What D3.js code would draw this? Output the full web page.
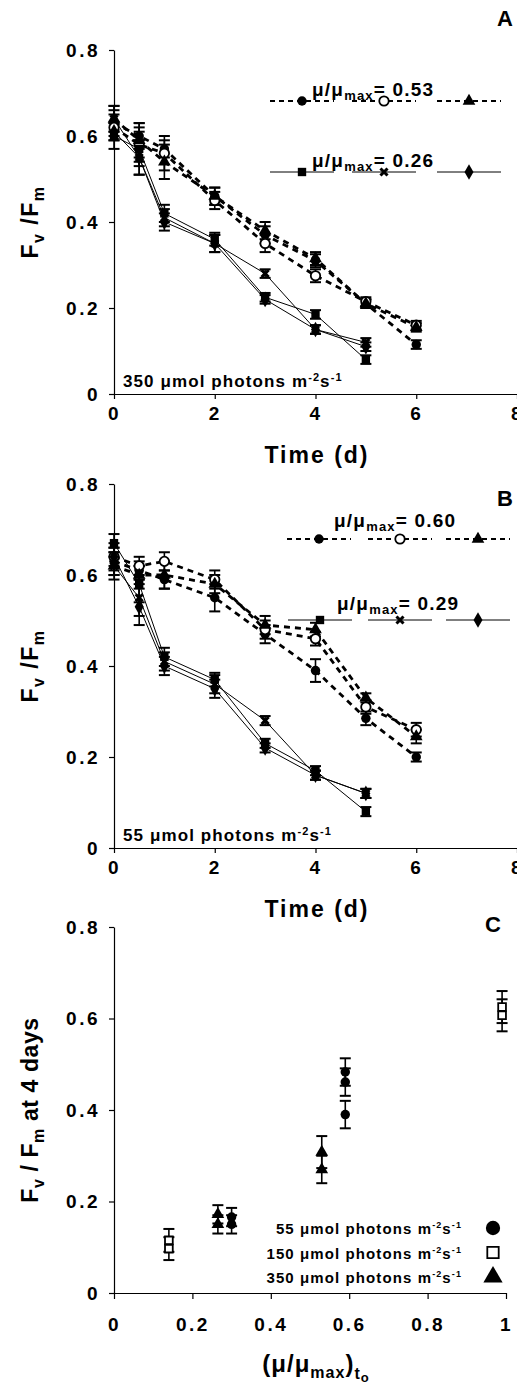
<!DOCTYPE html>
<html>
<head>
<meta charset="utf-8">
<script src="https://cdn.jsdelivr.net/npm/d3@7"></script>
<style>
body { margin: 0; background: #fff; }
svg { font-family: "Liberation Sans", Arial, sans-serif; font-weight: bold; }
</style>
</head>
<body>
<div id="chart"></div>
<script>

// ---------------- data ----------------
var timesLong = [0, 0.5, 1, 2, 3, 4, 5, 6];
var timesShort = [0, 0.5, 1, 2, 3, 4, 5];
var timeTicks = [0, 2, 4, 6, 8];
var fvTicks = [0, 0.2, 0.4, 0.6, 0.8];
var muTicks = [0, 0.2, 0.4, 0.6, 0.8, 1];

// panel A, 350 umol (mu/mumax 0.53 dashed, 0.26 solid)
var aCircle = [0.63, 0.60, 0.57, 0.46, 0.37, 0.31, 0.21, 0.115];
var aCircleErr = [0.03, 0.03, 0.02, 0.02, 0.02, 0.015, 0.01, 0.01];
var aOpen = [0.62, 0.58, 0.56, 0.45, 0.35, 0.275, 0.215, 0.16];
var aOpenErr = [0.03, 0.04, 0.04, 0.02, 0.02, 0.015, 0.01, 0.01];
var aTriangle = [0.64, 0.59, 0.54, 0.46, 0.38, 0.315, 0.21, 0.155];
var aTriangleErr = [0.03, 0.04, 0.04, 0.02, 0.02, 0.015, 0.01, 0.01];
var aSquare = [0.60, 0.57, 0.42, 0.36, 0.225, 0.185, 0.08];
var aSquareErr = [0.03, 0.04, 0.02, 0.015, 0.01, 0.01, 0.01];
var aX = [0.64, 0.55, 0.41, 0.35, 0.28, 0.15, 0.12];
var aXErr = [0.03, 0.04, 0.02, 0.02, 0.01, 0.01, 0.01];
var aDiamond = [0.61, 0.55, 0.40, 0.35, 0.22, 0.15, 0.11];
var aDiamondErr = [0.02, 0.04, 0.02, 0.02, 0.01, 0.01, 0.01];

// panel B, 55 umol (mu/mumax 0.60 dashed, 0.29 solid)
var bCircle = [0.63, 0.61, 0.59, 0.55, 0.47, 0.39, 0.285, 0.20];
var bCircleErr = [0.03, 0.02, 0.02, 0.03, 0.02, 0.025, 0.015, 0.01];
var bOpen = [0.64, 0.62, 0.63, 0.59, 0.48, 0.46, 0.31, 0.26];
var bOpenErr = [0.03, 0.02, 0.02, 0.02, 0.02, 0.015, 0.015, 0.015];
var bTriangle = [0.62, 0.60, 0.60, 0.58, 0.49, 0.48, 0.33, 0.245];
var bTriangleErr = [0.03, 0.02, 0.03, 0.02, 0.02, 0.015, 0.01, 0.015];
var bSquare = [0.67, 0.58, 0.42, 0.37, 0.23, 0.17, 0.08];
var bSquareErr = [0.02, 0.04, 0.02, 0.015, 0.01, 0.01, 0.01];
var bX = [0.62, 0.55, 0.41, 0.36, 0.28, 0.16, 0.12];
var bXErr = [0.02, 0.04, 0.02, 0.02, 0.01, 0.01, 0.01];
var bDiamond = [0.64, 0.53, 0.40, 0.35, 0.22, 0.16, 0.12];
var bDiamondErr = [0.02, 0.04, 0.02, 0.02, 0.01, 0.01, 0.01];

// panel C, Fv/Fm at 4 days against (mu/mumax)t0
var c55Mu = [0.30, 0.30, 0.59, 0.59, 0.59];
var c55Fv = [0.166, 0.15, 0.483, 0.461, 0.39];
var c55Err = [0.02, 0.02, 0.03, 0.03, 0.03];
var c150Mu = [0.14, 0.14, 0.99, 0.99];
var c150Fv = [0.115, 0.097, 0.625, 0.607];
var c150Err = [0.025, 0.025, 0.035, 0.035];
var c350Mu = [0.265, 0.265, 0.53, 0.53];
var c350Fv = [0.172, 0.15, 0.308, 0.27];
var c350Err = [0.02, 0.02, 0.035, 0.03];
var cLegendLabels = ["55", "150", "350"];

// ---------------- setup ----------------
var svg = d3.select("#chart")
  .append("svg")
    .attr("width", 517)
    .attr("height", 1386);

// bold x like the one in the legend
var symbolX = {
    draw: function(ctx, size){
        var r = Math.sqrt(size) / 2;
        ctx.moveTo(-r, -r); ctx.lineTo(r, r);
        ctx.moveTo(-r, r); ctx.lineTo(r, -r);
    }
};

var shapes = {
    circle: d3.symbolCircle,
    open: d3.symbolCircle,
    triangle: d3.symbolTriangle,
    square: d3.symbolSquare,
    x: symbolX,
    diamond: d3.symbolDiamond,
    openSquare: d3.symbolSquare
};

function addMarker(g, kind, cx, cy, size){
    var p = g.append("path")
        .attr("d", d3.symbol().type(shapes[kind]).size(size)())
        .attr("transform", "translate(" + cx + "," + cy + ")");
    if(kind == "open" || kind == "openSquare"){
        p.style("fill", "#fff").style("stroke", "#000").style("stroke-width", 1.8);
    }
    else if(kind == "x"){
        p.style("fill", "none").style("stroke", "#000").style("stroke-width", 3);
    }
    else{
        p.style("fill", "#000");
    }
}

function addErrorBar(g, cx, yTop, yBot){
    g.append("line").attr("x1", cx).attr("x2", cx).attr("y1", yTop).attr("y2", yBot)
        .style("stroke", "#000").style("stroke-width", 1.6);
    [yTop, yBot].forEach(function(yy){
        g.append("line").attr("x1", cx - 5.5).attr("x2", cx + 5.5).attr("y1", yy).attr("y2", yy)
            .style("stroke", "#000").style("stroke-width", 2);
    });
}

function styleAxis(ax){
    ax.select(".domain").style("stroke", "#000").style("stroke-width", 1.2);
    ax.selectAll(".tick line").style("stroke", "#000").style("stroke-width", 1.2);
    ax.selectAll(".tick text")
        .style("font-size", "19px")
        .style("font-weight", "bold")
        .style("letter-spacing", "2.5px")
        .style("fill", "#000");
}

// "mu/mu max = value" text
function muText(g, x, y, value){
    var t = g.append("text").attr("x", x).attr("y", y)
        .style("font-size", "19px").style("letter-spacing", "1.2px");
    t.append("tspan").text("\u03bc/\u03bc");
    t.append("tspan").attr("dy", 4).style("font-size", "13px").text("max");
    t.append("tspan").attr("dy", -4).text("= " + value);
}

// "N umol photons m-2 s-1"
function lightText(g, x, y, level, anchor, size){
    var t = g.append("text").attr("x", x).attr("y", y)
        .style("font-size", size + "px")
        .style("letter-spacing", "1.1px")
        .style("text-anchor", anchor || "start");
    t.append("tspan").text(level + " \u03bcmol  photons  m");
    t.append("tspan").attr("dy", -6).style("font-size", (size - 6) + "px").text("-2");
    t.append("tspan").attr("dy", 6).text("s");
    t.append("tspan").attr("dy", -6).style("font-size", (size - 6) + "px").text("-1");
}

function fvLabel(g, cx, cy, extra){
    var t = g.append("text")
        .attr("transform", "translate(" + cx + "," + cy + ")rotate(-90)")
        .style("text-anchor", "middle")
        .style("letter-spacing", extra ? "0.6px" : "1.5px")
        .style("font-size", "23px");
    t.append("tspan").text("F");
    t.append("tspan").attr("dy", 6).style("font-size", "16px").text("v");
    t.append("tspan").attr("dy", -6).text(extra ? " / F" : " /F");
    t.append("tspan").attr("dy", 6).style("font-size", "16px").text("m");
    if(extra){
        t.append("tspan").attr("dy", -6).text(" " + extra);
    }
}

///////////////////////////////TIME PANELS////////////////////////////////////
function drawTimePanel(p){

    var x = d3.scaleLinear().domain([0, 8]).range([114, 517]);
    var y = d3.scaleLinear().domain([0, 0.8]).range([p.bottom, p.top]);
    var g = svg.append("g");

    var xAxis = g.append("g")
        .attr("transform", "translate(0," + p.bottom + ")")
        .call(d3.axisBottom(x).tickValues(timeTicks).tickSize(5).tickSizeOuter(0).tickPadding(8));
    styleAxis(xAxis);

    var yAxis = g.append("g")
        .attr("transform", "translate(114,0)")
        .call(d3.axisLeft(y).tickValues(fvTicks).tickSize(5).tickSizeOuter(0).tickPadding(9)
            .tickFormat(function(d){ return d == 0 ? "0" : d3.format(".1f")(d); }));
    styleAxis(yAxis);

    var line = d3.line()
        .x(function(d){ return x(d.t); })
        .y(function(d){ return y(d.v); });

    // lines
    p.series.forEach(function(s){
        var pts = s.t.map(function(t, i){ return {t: t, v: s.v[i]}; });
        g.append("path")
            .datum(pts)
            .attr("d", line)
            .style("fill", "none")
            .style("stroke", "#000")
            .style("stroke-width", s.dashed ? 2.8 : 1)
            .style("stroke-dasharray", s.dashed ? "6,5" : null);
    });

    // error bars
    p.series.forEach(function(s){
        s.t.forEach(function(t, i){
            addErrorBar(g, x(t), y(s.v[i] + s.e[i]), y(s.v[i] - s.e[i]));
        });
    });

    // markers
    p.series.forEach(function(s){
        s.t.forEach(function(t, i){
            addMarker(g, s.kind, x(t), y(s.v[i]), s.kind == "x" ? 50 : 70);
        });
    });

    // legend rows
    p.legend.forEach(function(row){
        row.kinds.forEach(function(kind, i){
            var mx = row.xs[i];
            g.append("line")
                .attr("x1", mx - 32).attr("x2", mx + 32)
                .attr("y1", row.y).attr("y2", row.y)
                .style("stroke", "#000")
                .style("stroke-width", row.dashed ? 1.8 : 1)
                .style("stroke-dasharray", row.dashed ? "5,4" : null);
            addMarker(g, kind, mx, row.y, kind == "x" ? 50 : 70);
        });
        muText(g, row.tx, row.ty, row.value);
    });

    lightText(g, 123, p.bottom - 7, p.light, "start", 17);

    g.append("text").attr("x", 317).attr("y", p.bottom + 69)
        .style("text-anchor", "middle").style("font-size", "23px")
        .style("letter-spacing", "2px")
        .text("Time  (d)");

    fvLabel(g, 38, (p.top + p.bottom) / 2);

    g.append("text").attr("x", 505).attr("y", p.letterY)
        .style("text-anchor", "middle").style("font-size", "22px")
        .text(p.letter);
}

drawTimePanel({
    top: 50, bottom: 394, light: "350", letter: "A", letterY: 26,
    series: [
        {kind: "circle", t: timesLong, v: aCircle, e: aCircleErr, dashed: true},
        {kind: "open", t: timesLong, v: aOpen, e: aOpenErr, dashed: true},
        {kind: "triangle", t: timesLong, v: aTriangle, e: aTriangleErr, dashed: true},
        {kind: "square", t: timesShort, v: aSquare, e: aSquareErr, dashed: false},
        {kind: "x", t: timesShort, v: aX, e: aXErr, dashed: false},
        {kind: "diamond", t: timesShort, v: aDiamond, e: aDiamondErr, dashed: false}
    ],
    legend: [
        {kinds: ["circle", "open", "triangle"], xs: [302, 384, 469], y: 101, dashed: true, tx: 312, ty: 96, value: "0.53"},
        {kinds: ["square", "x", "diamond"], xs: [302, 384, 469], y: 172, dashed: false, tx: 312, ty: 167, value: "0.26"}
    ]
});

drawTimePanel({
    top: 484, bottom: 848, light: "55", letter: "B", letterY: 506,
    series: [
        {kind: "circle", t: timesLong, v: bCircle, e: bCircleErr, dashed: true},
        {kind: "open", t: timesLong, v: bOpen, e: bOpenErr, dashed: true},
        {kind: "triangle", t: timesLong, v: bTriangle, e: bTriangleErr, dashed: true},
        {kind: "square", t: timesShort, v: bSquare, e: bSquareErr, dashed: false},
        {kind: "x", t: timesShort, v: bX, e: bXErr, dashed: false},
        {kind: "diamond", t: timesShort, v: bDiamond, e: bDiamondErr, dashed: false}
    ],
    legend: [
        {kinds: ["circle", "open", "triangle"], xs: [319, 400, 478], y: 539, dashed: true, tx: 334, ty: 527, value: " 0.60"},
        {kinds: ["square", "x", "diamond"], xs: [320, 400, 478], y: 620, dashed: false, tx: 337, ty: 610, value: " 0.29"}
    ]
});

///////////////////////////////PANEL C////////////////////////////////////////
(function(){
    var x = d3.scaleLinear().domain([0, 1]).range([114, 506]);
    var y = d3.scaleLinear().domain([0, 0.8]).range([1293, 927]);
    var g = svg.append("g");

    var xAxis = g.append("g")
        .attr("transform", "translate(0,1293)")
        .call(d3.axisBottom(x).tickValues(muTicks).tickSize(6).tickSizeOuter(0).tickPadding(19)
            .tickFormat(function(d){ return (d == 0 || d == 1) ? d : d3.format(".1f")(d); }));
    styleAxis(xAxis);

    var yAxis = g.append("g")
        .attr("transform", "translate(114,0)")
        .call(d3.axisLeft(y).tickValues(fvTicks).tickSize(5).tickSizeOuter(0).tickPadding(9)
            .tickFormat(function(d){ return d == 0 ? "0" : d3.format(".1f")(d); }));
    styleAxis(yAxis);

    var groups = [
        {kind: "circle", mu: c55Mu, fv: c55Fv, e: c55Err},
        {kind: "openSquare", mu: c150Mu, fv: c150Fv, e: c150Err},
        {kind: "triangle", mu: c350Mu, fv: c350Fv, e: c350Err}
    ];

    groups.forEach(function(s){
        s.mu.forEach(function(m, i){
            addErrorBar(g, x(m), y(s.fv[i] + s.e[i]), y(s.fv[i] - s.e[i]));
        });
    });
    groups.forEach(function(s){
        s.mu.forEach(function(m, i){
            addMarker(g, s.kind, x(m), y(s.fv[i]), s.kind == "openSquare" ? 60 : 70);
        });
    });

    // legend
    cLegendLabels.forEach(function(lab, i){
        var ly = 1228 + i * 24.5;
        lightText(g, 462, ly + 6, lab, "end", 15);
        addMarker(g, groups[i].kind, 493, ly, groups[i].kind == "openSquare" ? 130 : 160);
    });

    // x label (mu/mumax)t0
    var t = g.append("text").attr("x", 316).attr("y", 1372)
        .style("text-anchor", "middle").style("font-size", "24px")
        .style("letter-spacing", "1px");
    t.append("tspan").text("(\u03bc/\u03bc");
    t.append("tspan").attr("dy", 6).style("font-size", "16px").text("max");
    t.append("tspan").attr("dy", -6).text(")");
    t.append("tspan").attr("dy", 7).style("font-size", "16px").text("t");
    t.append("tspan").attr("dy", 3).style("font-size", "13px").text("o");

    fvLabel(g, 38, 1110, "at 4 days");

    g.append("text").attr("x", 493).attr("y", 932)
        .style("text-anchor", "middle").style("font-size", "22px")
        .text("C");
})();

</script>
</body>
</html>
